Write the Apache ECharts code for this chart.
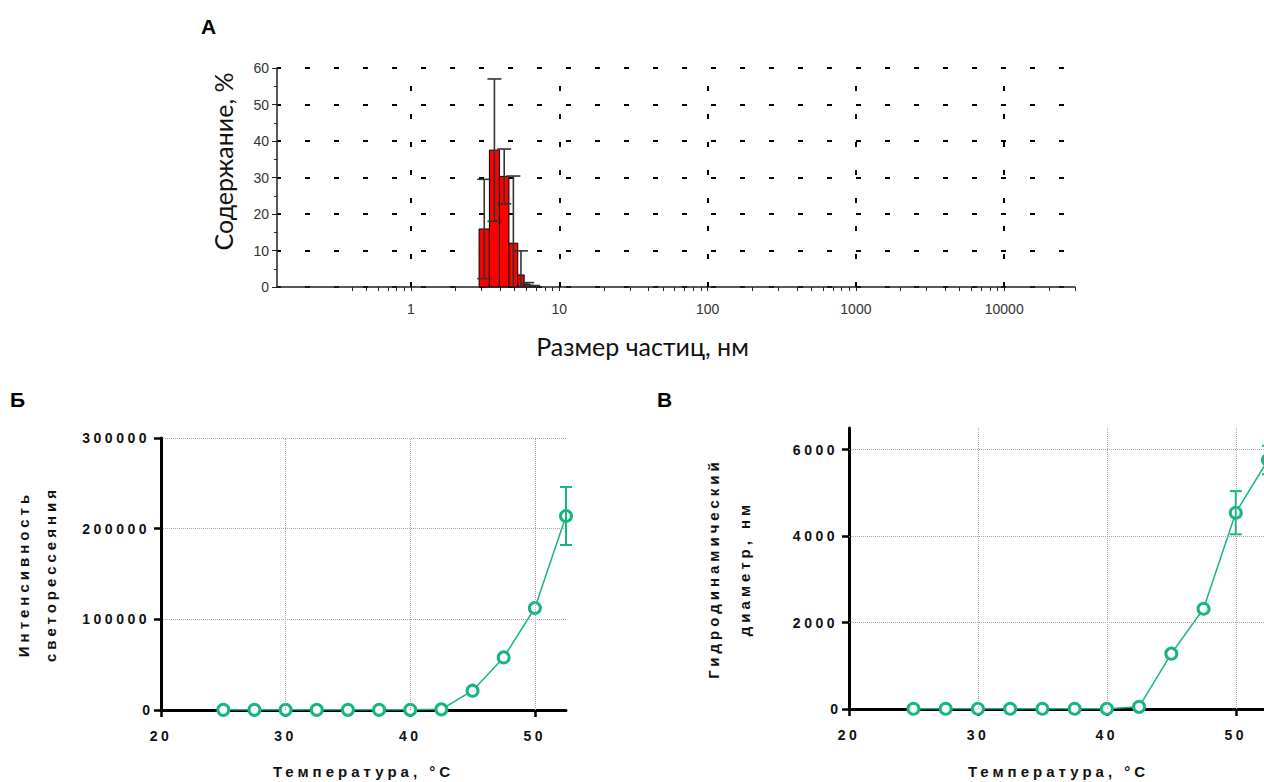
<!DOCTYPE html>
<html>
<head>
<meta charset="utf-8">
<script src="https://cdn.jsdelivr.net/npm/echarts@6/dist/echarts.min.js"></script>
<style>
  html, body { margin: 0; padding: 0; background: #fff; }
  #chart { width: 1264px; height: 782px; }
</style>
</head>
<body>
<div id="chart"></div>
<script>
// ---- Panel A: particle size distribution ----
// bin edges, nm (log axis); mean content, %; standard deviation, %
const binEdges = [2.88, 3.38, 3.95, 4.58, 5.25, 5.8, 6.35, 6.95];
const binMeans = [15.9, 37.5, 30.3, 12.0, 3.3, 0.8, 0.2];
const binSD    = [13.6, 19.5, 7.5, 18.4, 6.6, 0.4, 0.2];
const sizeLabels = [1, 10, 100, 1000, 10000];

// ---- Panels Б and В: temperature dependence ----
const temperature  = [25, 27.5, 30, 32.5, 35, 37.5, 40, 42.5, 45, 47.5, 50, 52.5];
const intensity    = [200, 200, 200, 200, 200, 200, 200, 700, 21300, 58000, 112500, 214000];
const intensityErr = [0, 0, 0, 0, 0, 0, 0, 0, 0, 0, 0, 32000];
const diameter     = [5, 5, 5, 5, 5, 5, 5, 50, 1280, 2320, 4540, 5760];
const diameterErr  = [0, 0, 0, 0, 0, 0, 0, 0, 0, 0, 500, 330];
const tempLabels   = [20, 30, 40, 50];
const diameterLabels = [0, 2000, 4000, 6000];

const GREEN = '#17b67a';
const BOLD_FONT = 'Liberation Sans';

// log-axis minor ticks: 1..9 within every decade that falls inside the axis
const sizeTickValues = [];
[0.1, 1, 10, 100, 1000, 10000].forEach(function (decade) {
  for (let k = 1; k <= 9; k++) {
    const v = +(k * decade).toPrecision(3);
    if (v >= 0.4 && v <= 30000) sizeTickValues.push(v);
  }
});

// error bar renderer shared by all panels: value(0)=x, value(1)=low, value(2)=high
function errorBar(color, lineWidth, capHalf) {
  return function (params, api) {
    const x = api.value(0), lo = api.value(1), hi = api.value(2);
    const pHi = api.coord([x, hi]);
    const pLo = api.coord([x, lo]);
    const style = { stroke: color, lineWidth: lineWidth, fill: null };
    const children = [
      { type: 'line', shape: { x1: pHi[0], y1: pHi[1], x2: pLo[0], y2: pLo[1] }, style: style },
      { type: 'line', shape: { x1: pHi[0] - capHalf, y1: pHi[1], x2: pHi[0] + capHalf, y2: pHi[1] }, style: style }
    ];
    if (lo > 0) {
      children.push({ type: 'line', shape: { x1: pLo[0] - capHalf, y1: pLo[1], x2: pLo[0] + capHalf, y2: pLo[1] }, style: style });
    }
    return { type: 'group', children: children };
  };
}

const plain = function (v) { return String(v); };
const boldLabel = { fontFamily: BOLD_FONT, fontWeight: 'bold', fontSize: 14, color: '#111' };
const boldTitle = { fontFamily: BOLD_FONT, fontWeight: 'bold', fontSize: 15, color: '#111' };
const thickAxis = { show: true, lineStyle: { color: '#000', width: 3 } };
const thickTick = { show: true, length: 7, lineStyle: { color: '#000', width: 2.5 } };
const dotted = { color: '#a8a8a8', width: 1, type: [1, 1] };
const marker = {
  symbol: 'circle', symbolSize: 11,
  lineStyle: { color: GREEN, width: 1.5 },
  itemStyle: { color: '#fff', borderColor: GREEN, borderWidth: 3 }
};

const option = {
  animation: false,
  backgroundColor: '#fff',
  graphic: [
    { type: 'text', left: 201, top: 16, style: { text: 'A', font: 'bold 21px "Liberation Sans"', fill: '#000' } },
    { type: 'text', left: 10, top: 389, style: { text: 'Б', font: 'bold 21px "Liberation Sans"', fill: '#000' } },
    { type: 'text', left: 657, top: 389, style: { text: 'В', font: 'bold 21px "Liberation Sans"', fill: '#000' } }
  ],
  grid: [
    { left: 277, top: 68, width: 798, height: 219, outerBoundsMode: 'none', containLabel: false },
    { left: 161, top: 438, width: 405, height: 272, outerBoundsMode: 'none', containLabel: false },
    { left: 849, top: 428, width: 419, height: 281, outerBoundsMode: 'none', containLabel: false }
  ],
  xAxis: [
    {
      gridIndex: 0, type: 'log', logBase: 10, min: 0.125, max: 30000,
      axisLine: { show: true, onZero: false, lineStyle: { color: '#222', width: 1.5 } },
      axisTick: { show: true, customValues: sizeTickValues, length: 4, lineStyle: { color: '#222', width: 1 } },
      minorTick: { show: false },
      axisLabel: { customValues: sizeLabels, fontFamily: 'Liberation Sans', fontSize: 14, color: '#333', margin: 15, formatter: plain },
      splitLine: { show: false },
      name: 'Размер частиц, нм', nameLocation: 'middle', nameGap: 46, nameMoveOverlap: false,
      nameTextStyle: { fontFamily: 'Lato, "Open Sans", sans-serif', fontSize: 25, color: '#111', padding: [0, 67, 0, 0] }
    },
    {
      gridIndex: 1, type: 'value', min: 20, max: 52.5, interval: 10,
      axisLine: Object.assign({ onZero: false }, thickAxis),
      axisTick: Object.assign({ customValues: tempLabels }, thickTick),
      axisLabel: Object.assign({ customValues: tempLabels, margin: 19,
                   formatter: function (v) { return v % 10 === 0 ? String(v) : ''; } }, boldLabel),
      splitLine: { show: false },
      name: 'Температура, °C', nameLocation: 'middle', nameGap: 54, nameMoveOverlap: false,
      nameTextStyle: boldTitle
    },
    {
      gridIndex: 2, type: 'value', min: 20, max: 52.5, interval: 10,
      axisLine: Object.assign({ onZero: false }, thickAxis),
      axisTick: Object.assign({ customValues: tempLabels }, thickTick),
      axisLabel: Object.assign({ customValues: tempLabels, margin: 19,
                   formatter: function (v) { return v % 10 === 0 ? String(v) : ''; } }, boldLabel),
      splitLine: { show: false },
      name: 'Температура, °C', nameLocation: 'middle', nameGap: 55, nameMoveOverlap: false,
      nameTextStyle: boldTitle
    }
  ],
  yAxis: [
    {
      gridIndex: 0, type: 'value', min: 0, max: 60, interval: 10,
      axisLine: { show: true, onZero: false, lineStyle: { color: '#222', width: 1.5 } },
      axisTick: { show: true, length: 5, lineStyle: { color: '#222', width: 1 } },
      minorTick: { show: true, splitNumber: 2, length: 3, lineStyle: { color: '#222', width: 1 } },
      axisLabel: { fontFamily: 'Liberation Sans', fontSize: 14, color: '#333', margin: 8, formatter: plain },
      splitLine: { show: true, lineStyle: { color: '#000', width: 2, type: [5, 24], dashOffset: 1 } },
      name: 'Содержание, %', nameLocation: 'middle', nameGap: 42, nameMoveOverlap: false,
      nameTextStyle: { fontFamily: 'Lato, "Open Sans", sans-serif', fontSize: 25, color: '#111', padding: [0, 0, 0, 32] }
    },
    {
      gridIndex: 1, type: 'value', min: 0, max: 300000, interval: 100000,
      axisLine: Object.assign({ onZero: false }, thickAxis),
      axisTick: thickTick,
      axisLabel: Object.assign({ margin: 11, formatter: plain }, boldLabel),
      splitLine: { show: true, lineStyle: dotted },
      name: 'Интенсивность\nсветорессеяния', nameLocation: 'middle', nameGap: 97, nameMoveOverlap: false,
      nameTextStyle: Object.assign({ lineHeight: 27 }, boldTitle)
    },
    {
      gridIndex: 2, type: 'value', min: 0, max: 6500, interval: 2000,
      axisLine: Object.assign({ onZero: false }, thickAxis),
      axisTick: Object.assign({ customValues: diameterLabels }, thickTick),
      axisLabel: Object.assign({ customValues: diameterLabels, margin: 11,
                   formatter: function (v) { return v % 2000 === 0 ? String(v) : ''; } }, boldLabel),
      splitLine: { show: false },
      name: 'Гидродинамический\nдиаметр, нм', nameLocation: 'middle', nameGap: 89, nameMoveOverlap: false,
      nameTextStyle: Object.assign({ lineHeight: 31 }, boldTitle)
    }
  ],
  series: [
    // histogram columns
    {
      type: 'custom', xAxisIndex: 0, yAxisIndex: 0, z: 3,
      data: binMeans.map(function (m, i) { return [binEdges[i], binEdges[i + 1], m]; }),
      encode: { x: [0, 1], y: 2 },
      renderItem: function (params, api) {
        const p0 = api.coord([api.value(0), api.value(2)]);
        const p1 = api.coord([api.value(1), 0]);
        return {
          type: 'rect',
          shape: { x: p0[0], y: p0[1], width: p1[0] - p0[0], height: p1[1] - p0[1] },
          style: { fill: '#ff0000', stroke: '#000', lineWidth: 1 }
        };
      },
      markLine: {
        silent: true, symbol: 'none', label: { show: false },
        lineStyle: { color: '#000', width: 2, type: [5, 23] },
        data: sizeLabels.map(function (v) { return { xAxis: v }; })
      }
    },
    // histogram error bars
    {
      type: 'custom', xAxisIndex: 0, yAxisIndex: 0, z: 4,
      data: binMeans.map(function (m, i) {
        return [Math.sqrt(binEdges[i] * binEdges[i + 1]), Math.max(0, m - binSD[i]), m + binSD[i]];
      }),
      encode: { x: 0, y: [1, 2] },
      renderItem: errorBar('#333', 1.6, 7)
    },
    // light scattering intensity
    Object.assign({
      type: 'line', xAxisIndex: 1, yAxisIndex: 1, z: 3,
      data: temperature.map(function (t, i) { return [t, intensity[i]]; }),
      markLine: {
        silent: true, symbol: 'none', label: { show: false }, lineStyle: dotted,
        data: [{ xAxis: 30 }, { xAxis: 40 }, { xAxis: 50 }]
      }
    }, marker),
    {
      type: 'custom', xAxisIndex: 1, yAxisIndex: 1, z: 4,
      data: temperature.map(function (t, i) { return [t, intensity[i] - intensityErr[i], intensity[i] + intensityErr[i], intensityErr[i]]; })
        .filter(function (d) { return d[3] > 0; }),
      encode: { x: 0, y: [1, 2] },
      renderItem: errorBar(GREEN, 2, 6)
    },
    // hydrodynamic diameter
    Object.assign({
      type: 'line', xAxisIndex: 2, yAxisIndex: 2, z: 3,
      data: temperature.map(function (t, i) { return [t, diameter[i]]; }),
      markLine: {
        silent: true, symbol: 'none', label: { show: false }, lineStyle: dotted,
        data: [{ xAxis: 30 }, { xAxis: 40 }, { xAxis: 50 }, { yAxis: 2000 }, { yAxis: 4000 }, { yAxis: 6000 }]
      }
    }, marker),
    {
      type: 'custom', xAxisIndex: 2, yAxisIndex: 2, z: 4,
      data: temperature.map(function (t, i) { return [t, diameter[i] - diameterErr[i], diameter[i] + diameterErr[i], diameterErr[i]]; })
        .filter(function (d) { return d[3] > 0; }),
      encode: { x: 0, y: [1, 2] },
      renderItem: errorBar(GREEN, 2, 6)
    }
  ]
};

const dom = document.getElementById('chart');
const chart = echarts.init(dom, null, { renderer: 'svg' });
chart.setOption(option);

// wide tracking for the bold labels of panels Б and В
const titleTexts = ['Интенсивность', 'светорессеяния', 'Гидродинамический', 'диаметр, нм', 'Температура, °C'];
function spaceBoldText() {
  dom.querySelectorAll('text').forEach(function (t) {
    const txt = t.textContent;
    if (txt.length < 2) return;
    const w = getComputedStyle(t).fontWeight;
    if (w === 'bold' || parseInt(w, 10) >= 700) {
      t.style.letterSpacing = titleTexts.indexOf(txt) >= 0 ? '4px' : '3.5px';
    }
  });
}
spaceBoldText();
chart.on('finished', spaceBoldText);
</script>
</body>
</html>
